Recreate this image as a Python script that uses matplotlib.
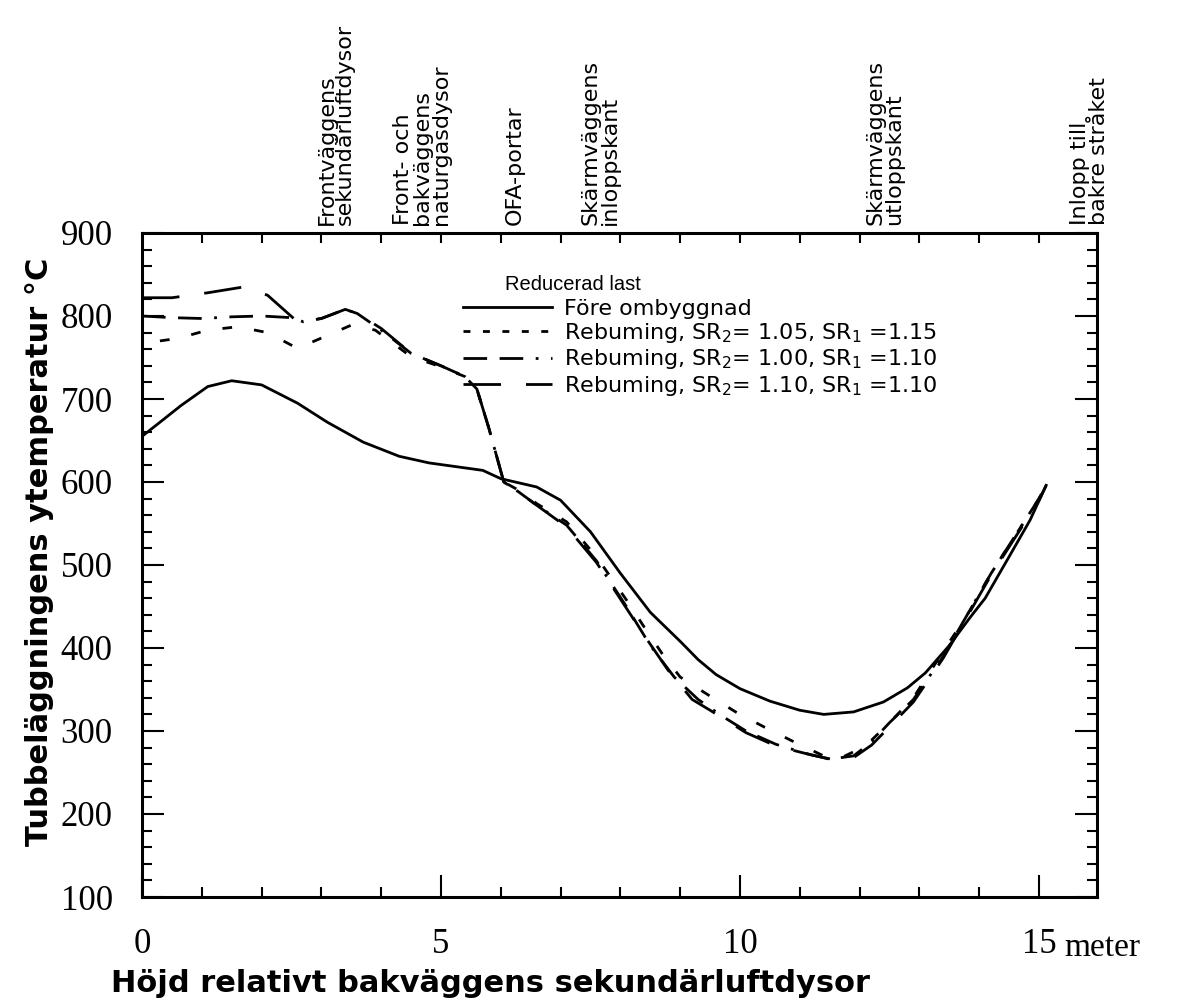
import matplotlib
matplotlib.use('Agg')
import matplotlib.pyplot as plt
from matplotlib.lines import Line2D
from matplotlib.transforms import blended_transform_factory

plt.rcParams['font.family'] = ['DejaVu Sans']
plt.rcParams['mathtext.fontset'] = 'custom'
plt.rcParams['mathtext.rm'] = 'DejaVu Sans'
plt.rcParams['lines.scale_dashes'] = False

# Före ombyggnad (solid)
dist_fore = [0, 0.3, 0.65, 1.1, 1.5, 2.0, 2.6, 3.1, 3.7, 4.3, 4.8, 5.3, 5.7, 6.0, 6.3, 6.6,
             7.0, 7.5, 8.0, 8.5, 9.0, 9.3, 9.6, 10.0, 10.5, 11.0, 11.4, 11.9, 12.4, 12.8,
             13.1, 13.5, 13.85, 14.1, 14.5, 14.85, 15.12]
temp_fore = [655, 672, 692, 715, 722, 717, 695, 672, 648, 631, 623, 618, 614, 604, 599, 594,
             578, 540, 490, 443, 408, 386, 368, 351, 336, 325, 320, 323, 335, 352,
             370, 403, 437, 460, 510, 554, 596]

# Reburning SR2=1.05, SR1=1.15
dist_r1 = [0.3, 0.6, 1.1, 1.6, 2.1, 2.6, 3.05, 3.5, 3.9, 4.5, 4.95, 5.4, 5.6, 5.8, 6.05,
           6.3, 6.6, 7.1, 7.6, 8.1, 8.4, 8.7, 9.0, 9.5, 9.95, 10.4, 10.9, 11.4, 11.7,
           12.1, 12.5, 12.9, 13.3, 13.8, 14.2, 14.6, 15.0, 15.12]
temp_r1 = [770, 773, 783, 787, 780, 761, 775, 789, 783, 751, 740, 727, 712, 665, 600,
           590, 574, 552, 510, 458, 425, 393, 365, 342, 322, 305, 287, 270, 268,
           282, 310, 340, 385, 440, 490, 535, 580, 597]

# Reburning SR2=1.00, SR1=1.10
dist_r2 = [0, 0.5, 1.0, 1.5, 2.0, 2.5, 2.7, 3.0, 3.4, 3.6, 4.0, 4.5, 5.0, 5.4, 5.6, 5.8,
           6.05, 6.3, 6.6, 7.1, 7.6, 8.1, 8.5, 8.9, 9.3, 9.7, 10.1, 10.6, 11.1, 11.5,
           11.9, 12.2, 12.5, 12.9, 13.4, 13.8, 14.2, 14.6, 15.0, 15.12]
temp_r2 = [800, 798, 797, 799, 800, 798, 793, 797, 808, 803, 783, 755, 740, 727, 712, 665,
           600, 588, 572, 548, 505, 450, 403, 365, 338, 318, 300, 284, 273, 266,
           270, 287, 310, 338, 390, 440, 490, 535, 580, 597]

# Reburning SR2=1.10, SR1=1.10
dist_r3 = [0, 0.5, 1.1, 1.7, 2.1, 2.6, 3.0, 3.4, 3.6, 4.0, 4.5, 5.0, 5.4, 5.6, 5.8,
           6.05, 6.3, 6.6, 7.1, 7.6, 8.1, 8.4, 8.8, 9.2, 9.5, 10.1, 10.6, 11.2, 11.6,
           11.9, 12.2, 12.5, 12.9, 13.4, 13.8, 14.2, 14.6, 15.0, 15.12]
temp_r3 = [822, 822, 828, 835, 825, 793, 797, 808, 803, 785, 755, 740, 727, 712, 665,
           600, 588, 572, 546, 503, 448, 415, 373, 338, 325, 298, 282, 271, 265,
           268, 283, 305, 335, 388, 438, 488, 533, 578, 596]

legend_labels = ['Före ombyggnad',
                 r'Rebuming, SR$_\mathregular{2}$= 1.05, SR$_\mathregular{1}$ =1.15',
                 r'Rebuming, SR$_\mathregular{2}$= 1.00, SR$_\mathregular{1}$ =1.10',
                 r'Rebuming, SR$_\mathregular{2}$= 1.10, SR$_\mathregular{1}$ =1.10']

markers = [(3.24, 'Frontväggens\nsekundärluftdysor'),
           (4.68, 'Front- och\nbakväggens\nnaturgasdysor'),
           (6.24, 'OFA-portar'),
           (7.66, 'Skärmväggens\ninloppskant'),
           (12.42, 'Skärmväggens\nutloppskant'),
           (15.85, 'Inlopp till\nbakre stråket')]

fig = plt.figure(figsize=(11.77, 10.08), dpi=100)
ax = fig.add_axes([142 / 1177, 1 - 897 / 1008, (1097 - 142) / 1177, (897 - 233) / 1008])

lw = 2.0
short = (0, (7, 16))
medium = (0, (17, 9, 17, 9, 2, 9))
longd = (0, (27, 18))
ax.plot(dist_fore, temp_fore, color='black', lw=lw)
ax.plot(dist_r1, temp_r1, color='black', lw=lw, linestyle=short)
ax.plot(dist_r2, temp_r2, color='black', lw=lw, linestyle=medium)
ax.plot(dist_r3, temp_r3, color='black', lw=lw, linestyle=longd)

ax.set_xlim(0, 15.97)
ax.set_ylim(100, 900)
ax.set_xticks([0, 5, 10, 15])
ax.set_xticks(range(0, 16), minor=True)
ax.set_yticks(range(100, 1000, 100))
ax.set_yticks(range(100, 901, 20), minor=True)
ax.tick_params(which='both', direction='in', width=1.5, right=True)
ax.tick_params(which='major', length=16)
ax.tick_params(which='minor', length=7)
ax.tick_params(axis='y', pad=21)
ax.tick_params(axis='x', pad=22)
for lab in ax.get_xticklabels() + ax.get_yticklabels():
    lab.set_fontfamily('Liberation Serif')
    lab.set_fontsize(25)
for sp in ax.spines.values():
    sp.set_linewidth(2.2)

top = ax.secondary_xaxis('top')
top.set_xticks(range(1, 16))
top.set_xticklabels([])
top.tick_params(direction='in', length=7, width=1.5)

trans = blended_transform_factory(ax.transData, ax.transAxes)
ax.text(15.42, -0.077, 'meter', transform=trans, fontfamily='Liberation Serif',
        fontsize=24, ha='left', va='center')

for xpos, txt in markers:
    ax.text(xpos, 1.012, txt, transform=trans, rotation=90, ha='center', va='bottom',
            fontsize=16, linespacing=0.92, multialignment='left')

ax.set_ylabel('Tubbeläggningens ytemperatur °C', fontsize=22, fontweight='bold')
ax.yaxis.set_label_coords(-0.092, 0.52)
ax.set_xlabel('Höjd relativt bakväggens sekundärluftdysor', fontsize=22,
              fontweight='bold')
ax.xaxis.set_label_coords(0.365, -0.108)

handles = [Line2D([], [], color='black', lw=lw),
           Line2D([], [], color='black', lw=lw, linestyle=(0, (5, 9))),
           Line2D([], [], color='black', lw=lw, linestyle=(0, (17, 9, 17, 9, 2, 9))),
           Line2D([], [], color='black', lw=lw, linestyle=(0, (27, 18)))]
fig.text(505 / 1177, 1 - 285 / 1008, 'Reducerad last', fontsize=14.5,
         fontfamily='Liberation Sans', va='center')
fig.legend(handles, legend_labels, loc='upper left', bbox_to_anchor=(463 / 1177, 1 - 299 / 1008),
           frameon=False, fontsize=16, handlelength=4.0, handletextpad=0.55,
           borderpad=0, borderaxespad=0, labelspacing=0.1)

fig.savefig('out.png', dpi=100)
